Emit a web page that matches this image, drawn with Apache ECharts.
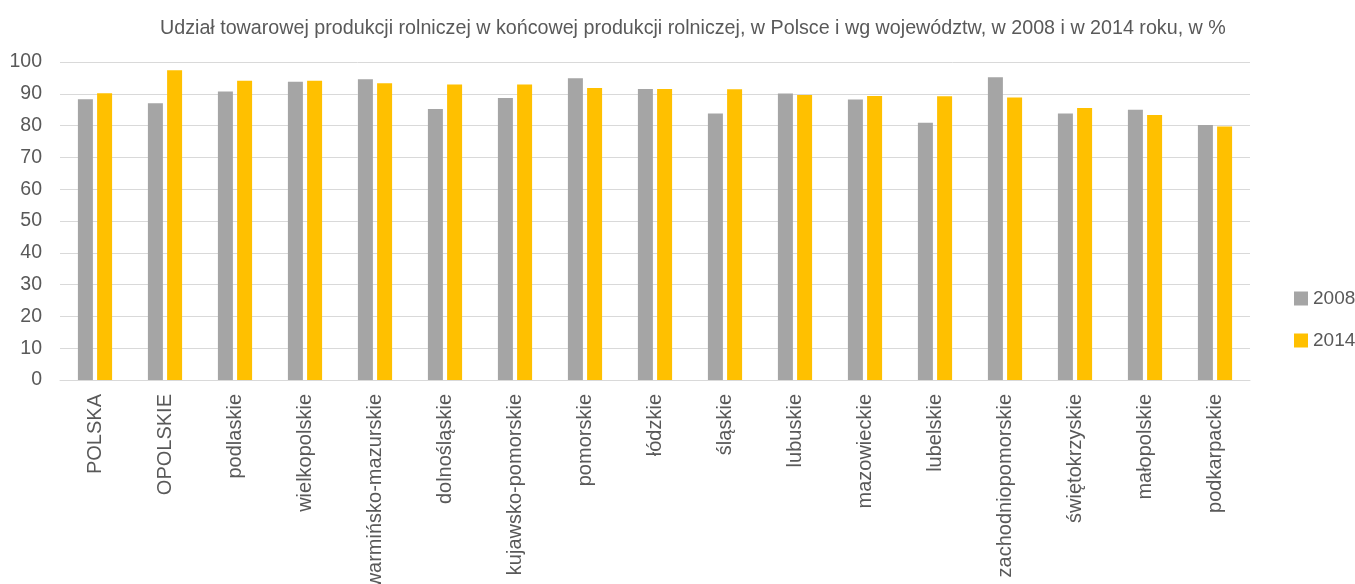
<!DOCTYPE html>
<html>
<head>
<meta charset="utf-8">
<script src="https://cdn.jsdelivr.net/npm/echarts@6/dist/echarts.min.js"></script>
<style>html,body{margin:0;padding:0;background:#fff;}#chart{width:1355px;height:584px;}</style>
</head>
<body>
<div id="chart"></div>
<script>
const titleText = 'Udział towarowej produkcji rolniczej w końcowej produkcji rolniczej, w Polsce i wg województw, w 2008 i w 2014 roku, w %';
const categories = ['POLSKA','OPOLSKIE','podlaskie','wielkopolskie','warmińsko-mazurskie','dolnośląskie','kujawsko-pomorskie','pomorskie','łódzkie','śląskie','lubuskie','mazowieckie','lubelskie','zachodniopomorskie','świętokrzyskie','małopolskie','podkarpackie'];
const values2008 = [88.3, 87.0, 90.7, 93.8, 94.6, 85.2, 88.7, 94.9, 91.5, 83.8, 90.1, 88.2, 80.9, 95.2, 83.8, 85.0, 80.2];
const values2014 = [90.2, 97.4, 94.1, 94.1, 93.3, 92.9, 92.9, 91.8, 91.5, 91.4, 89.6, 89.3, 89.2, 88.8, 85.5, 83.3, 79.7];
const seriesNames = ['2008', '2014'];

const font = '"Liberation Sans", Arial, sans-serif';
const chart = echarts.init(document.getElementById('chart'), null, {renderer: 'canvas'});
chart.setOption({
  animation: false,
  backgroundColor: '#ffffff',
  title: {
    text: titleText, left: 160, top: 19, padding: 0,
    textStyle: {fontFamily: font, fontSize: 19.7, fontWeight: 'normal', color: '#595959'}
  },
  legend: {
    orient: 'vertical', left: 1289, top: 284, itemGap: 23,
    itemWidth: 14, itemHeight: 14, icon: 'rect',
    textStyle: {fontFamily: font, fontSize: 19, color: '#595959'},
    data: seriesNames
  },
  grid: {left: 60, right: 105, top: 62, bottom: 204, containLabel: false, outerBoundsMode: 'none'},
  xAxis: {
    type: 'category', data: categories,
    axisLine: {show: true, lineStyle: {color: '#d9d9d9', width: 1}},
    axisTick: {show: false},
    axisLabel: {rotate: 90, interval: 0, margin: 14, fontFamily: font, fontSize: 20, color: '#595959'}
  },
  yAxis: {
    type: 'value', min: 0, max: 100, interval: 10,
    axisLine: {show: false}, axisTick: {show: false},
    axisLabel: {margin: 18, fontFamily: font, fontSize: 19.5, color: '#595959'},
    splitLine: {lineStyle: {color: '#d9d9d9', width: 1}}
  },
  series: [
    {name: seriesNames[0], type: 'bar', data: values2008, barWidth: 15, barGap: '28%',
     itemStyle: {color: '#a5a5a5'}},
    {name: seriesNames[1], type: 'bar', data: values2014, barWidth: 15,
     itemStyle: {color: '#ffc000'}}
  ]
});
</script>
</body>
</html>
